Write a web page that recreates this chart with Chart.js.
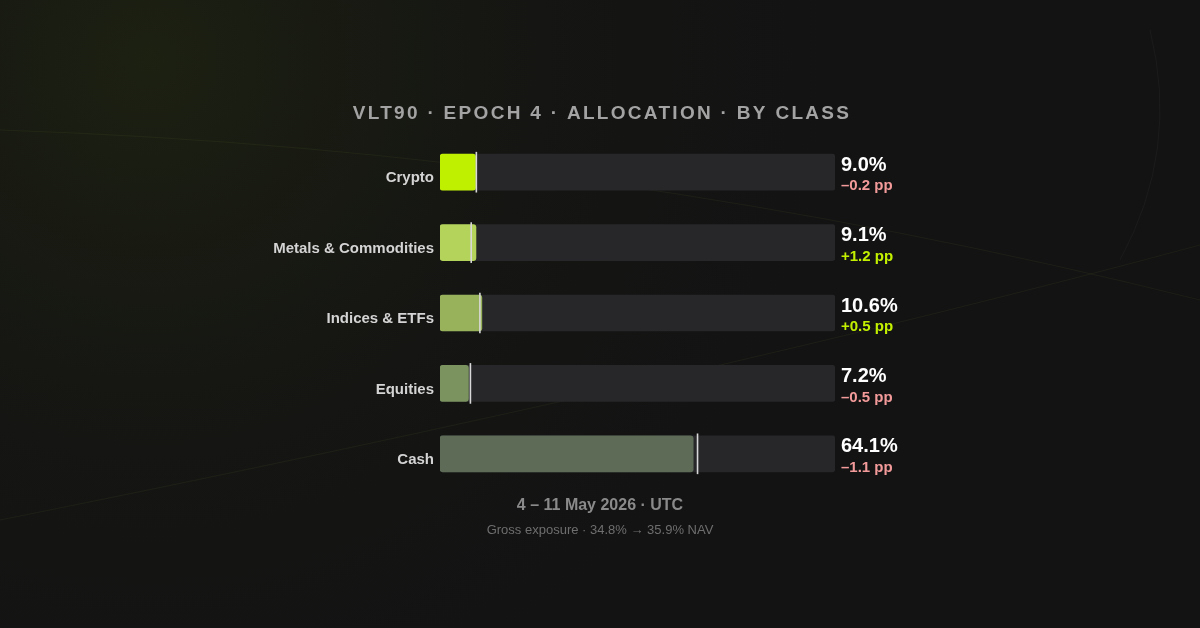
<!DOCTYPE html>
<html>
<head>
<meta charset="utf-8">
<script src="https://cdn.jsdelivr.net/npm/chart.js@4"></script>
<style>
  html, body { margin: 0; padding: 0; background: #131313; }
  #wrap { width: 1200px; height: 628px; }
</style>
</head>
<body>
<div id="wrap"><canvas id="chart"></canvas></div>
<script>
var categories = ['Crypto', 'Metals & Commodities', 'Indices & ETFs', 'Equities', 'Cash'];
var allocation = [9.0, 9.1, 10.6, 7.2, 64.1];
var change = [-0.2, 1.2, 0.5, -0.5, -1.1];
var barColors = ['#bff000', '#b4d35a', '#97b25b', '#7a935f', '#5d6b57'];
var titleText = 'VLT90 \u00b7 EPOCH 4 \u00b7 ALLOCATION \u00b7 BY CLASS';
var dateText = '4 \u2013 11 May 2026 \u00b7 UTC';
var noteText = 'Gross exposure \u00b7 34.8% \u2192 35.9% NAV';

// previous allocation = current - change
var previous = [];
var markers = [];
var track = [];
for (var i = 0; i < allocation.length; i++) {
    previous.push(allocation[i] - change[i]);
    markers.push([previous[i] - 0.12, previous[i] + 0.12]);
    track.push(100);
}

var FONT = '"Liberation Sans", Arial, sans-serif';

var decor = {
    id: 'decor',
    beforeDraw: function (chart) {
        var ctx = chart.ctx;
        ctx.save();
        ctx.fillStyle = '#131313';
        ctx.fillRect(0, 0, chart.width, chart.height);
        var g = ctx.createRadialGradient(150, 60, 0, 150, 60, 700);
        g.addColorStop(0, 'rgba(38,46,16,0.5)');
        g.addColorStop(1, 'rgba(20,20,20,0)');
        ctx.fillStyle = g;
        ctx.fillRect(0, 0, chart.width, chart.height);
        ctx.strokeStyle = 'rgba(140,170,60,0.08)';
        ctx.lineWidth = 1;
        ctx.beginPath();
        ctx.moveTo(0, 130);
        ctx.quadraticCurveTo(600, 150, 1200, 300);
        ctx.stroke();
        ctx.beginPath();
        ctx.moveTo(0, 520);
        ctx.quadraticCurveTo(700, 380, 1200, 245);
        ctx.stroke();
        ctx.strokeStyle = 'rgba(255,255,255,0.035)';
        ctx.beginPath();
        ctx.moveTo(1150, 30);
        ctx.quadraticCurveTo(1180, 150, 1120, 260);
        ctx.stroke();
        ctx.restore();
    },
    afterDraw: function (chart) {
        var ctx = chart.ctx;
        var x = chart.scales.x;
        var y = chart.scales.y;
        ctx.save();
        ctx.textAlign = 'center';
        ctx.textBaseline = 'middle';
        ctx.fillStyle = '#a3a3a3';
        ctx.font = 'bold 19px ' + FONT;
        ctx.letterSpacing = '2.3px';
        ctx.fillText(titleText, 602, 114);
        ctx.letterSpacing = '0px';
        ctx.fillStyle = '#8a8a8a';
        ctx.font = 'bold 16px ' + FONT;
        ctx.fillText(dateText, 600, 506);
        ctx.fillStyle = '#6e6e6e';
        ctx.font = '13px ' + FONT;
        ctx.fillText(noteText, 600, 530);

        for (var i = 0; i < categories.length; i++) {
            var cy = y.getPixelForValue(i);
            ctx.textAlign = 'right';
            ctx.fillStyle = '#d4d4d4';
            ctx.font = 'bold 15px ' + FONT;
            ctx.fillText(categories[i], x.getPixelForValue(0) - 6, cy + 6);
            ctx.textAlign = 'left';
            ctx.fillStyle = '#ffffff';
            ctx.font = 'bold 20px ' + FONT;
            ctx.fillText(allocation[i].toFixed(1) + '%', x.getPixelForValue(100) + 6, cy - 7);
            var pos = change[i] >= 0;
            ctx.fillStyle = pos ? '#c2f000' : '#f39a9a';
            ctx.font = 'bold 15px ' + FONT;
            ctx.fillText((pos ? '+' : '\u2013') + Math.abs(change[i]).toFixed(1) + ' pp', x.getPixelForValue(100) + 6, cy + 14);
        }
        ctx.restore();
    }
};

new Chart(document.getElementById('chart'), {
    type: 'bar',
    data: {
        labels: categories,
        datasets: [
            { data: markers, backgroundColor: '#d8d8d8', barThickness: 40, grouped: false, order: 0 },
            { data: allocation, backgroundColor: barColors, barThickness: 36, borderRadius: 3, borderSkipped: false, grouped: false, order: 1 },
            { data: track, backgroundColor: '#27272a', barThickness: 36, borderRadius: 3, borderSkipped: false, grouped: false, order: 2 }
        ]
    },
    options: {
        indexAxis: 'y',
        responsive: true,
        maintainAspectRatio: false,
        animation: false,
        layout: { padding: { left: 440, right: 365, top: 137, bottom: 139 } },
        scales: {
            x: { display: false, min: 0, max: 100 },
            y: { display: false }
        },
        plugins: { legend: { display: false }, tooltip: { enabled: false } }
    },
    plugins: [decor]
});
</script>
</body>
</html>
